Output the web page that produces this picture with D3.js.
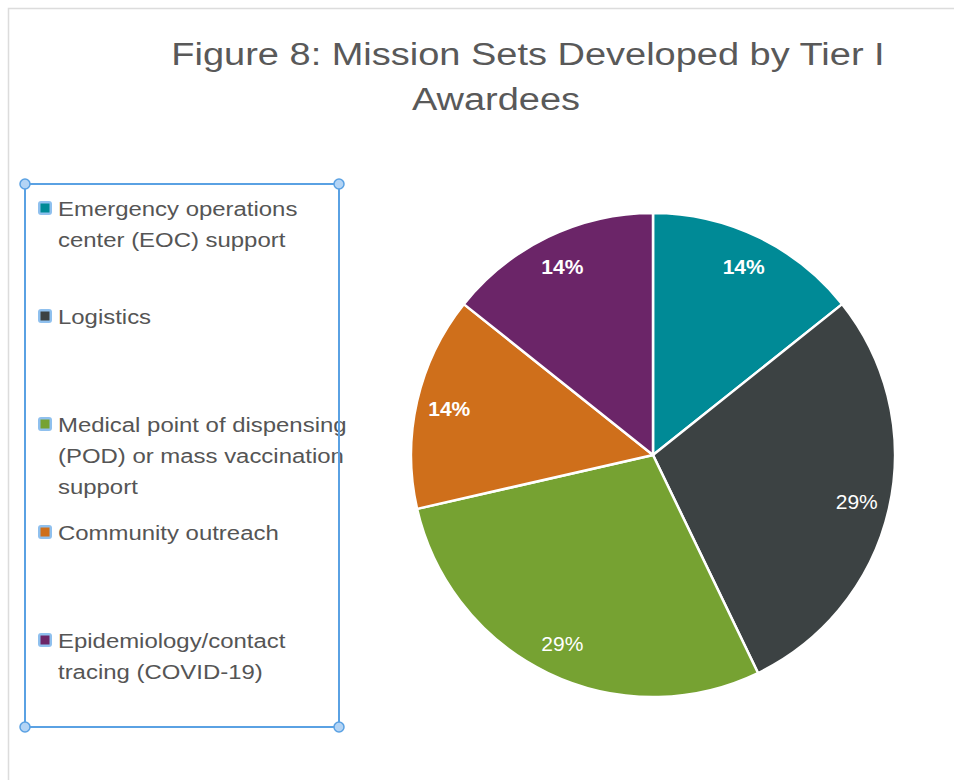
<!DOCTYPE html>
<html>
<head>
<meta charset="utf-8">
<script src="https://cdn.jsdelivr.net/npm/d3@7"></script>
<style>
  body { margin: 0; background: #fff; }
  svg { display: block; font-family: "Liberation Sans", Arial, Helvetica, sans-serif; }
</style>
</head>
<body>
<div id="chart"></div>
<script>
// Chart data
var categories = [
  "Emergency operations center (EOC) support",
  "Logistics",
  "Medical point of dispensing (POD) or mass vaccination support",
  "Community outreach",
  "Epidemiology/contact tracing (COVID-19)"
];
var legendLines = [
  ["Emergency operations", "center (EOC) support"],
  ["Logistics"],
  ["Medical point of dispensing", "(POD) or mass vaccination", "support"],
  ["Community outreach"],
  ["Epidemiology/contact", "tracing (COVID-19)"]
];
var counts = [1, 2, 2, 1, 1];
var colors = ["#008a96", "#3c4243", "#76a232", "#cf6f1b", "#6b2568"];
var titleLines = ["Figure 8: Mission Sets Developed by Tier I", "Awardees"];

var width = 954, height = 780;

var svg = d3.select("#chart").append("svg")
  .attr("width", width)
  .attr("height", height);

// light frame around the figure
svg.append("path")
  .attr("d", "M8.5,780 L8.5,8.5 L954,8.5")
  .attr("fill", "none")
  .attr("stroke", "#dcdcdc")
  .attr("stroke-width", 1.5);

// Title (the source font is wider, so stretch horizontally)
svg.append("g")
  .attr("fill", "#595959")
  .attr("font-size", 31)
  .attr("text-anchor", "middle")
  .selectAll("text")
  .data(titleLines)
  .join("text")
  .attr("transform", (d, i) => `translate(${i == 0 ? 528 : 496},${65 + i * 45}) scale(1.225,1)`)
  .text(d => d);

// Pie
var cx = 653, cy = 455, radius = 242;
var total = d3.sum(counts);
var arcs = d3.pie().sort(null)(counts);
var arc = d3.arc().innerRadius(0).outerRadius(radius);
var labelArc = d3.arc().innerRadius(209).outerRadius(209);

var pieG = svg.append("g").attr("transform", `translate(${cx},${cy})`);

pieG.selectAll("path")
  .data(arcs)
  .join("path")
  .attr("d", arc)
  .attr("fill", (d, i) => colors[i])
  .attr("stroke", "#fff")
  .attr("stroke-width", 2.5)
  .attr("stroke-linejoin", "round");

pieG.selectAll("text")
  .data(arcs)
  .join("text")
  .attr("transform", d => `translate(${labelArc.centroid(d)})`)
  .attr("text-anchor", "middle")
  .attr("dy", "0.36em")
  .attr("fill", "#fff")
  .attr("font-size", 21)
  .attr("font-weight", d => d.data < 2 ? "bold" : "normal")
  .text(d => Math.round(d.data / total * 100) + "%");

// Legend (selected text box look)
var legend = svg.append("g");
var boxX0 = 25, boxY0 = 184, boxX1 = 339, boxY1 = 727;

var yLegend = d3.scaleLinear().domain([0, categories.length - 1]).range([216, 648]);

var items = legend.selectAll("g.item")
  .data(categories)
  .join("g")
  .attr("class", "item")
  .attr("transform", (d, i) => `translate(0,${yLegend(i)})`);

items.append("rect")
  .attr("x", 38).attr("y", -15)
  .attr("width", 14).attr("height", 14)
  .attr("rx", 3)
  .attr("fill", "#8fc0ee");

items.append("rect")
  .attr("x", 40.5).attr("y", -12.5)
  .attr("width", 9).attr("height", 9)
  .attr("fill", (d, i) => colors[i]);

items.append("text")
  .attr("transform", "translate(58,0) scale(1.14,1)")
  .attr("fill", "#555")
  .attr("font-size", 21)
  .selectAll("tspan")
  .data((d, i) => legendLines[i])
  .join("tspan")
  .attr("x", 0)
  .attr("y", (d, j) => j * 31)
  .text(d => d);

legend.append("rect")
  .attr("x", boxX0).attr("y", boxY0)
  .attr("width", boxX1 - boxX0).attr("height", boxY1 - boxY0)
  .attr("fill", "none")
  .attr("stroke", "#5aa1e3")
  .attr("stroke-width", 2);

legend.selectAll("circle")
  .data([[boxX0, boxY0], [boxX1, boxY0], [boxX0, boxY1], [boxX1, boxY1]])
  .join("circle")
  .attr("cx", d => d[0])
  .attr("cy", d => d[1])
  .attr("r", 5)
  .attr("fill", "#b3d4f5")
  .attr("stroke", "#5aa1e3")
  .attr("stroke-width", 1.5);
</script>
</body>
</html>
